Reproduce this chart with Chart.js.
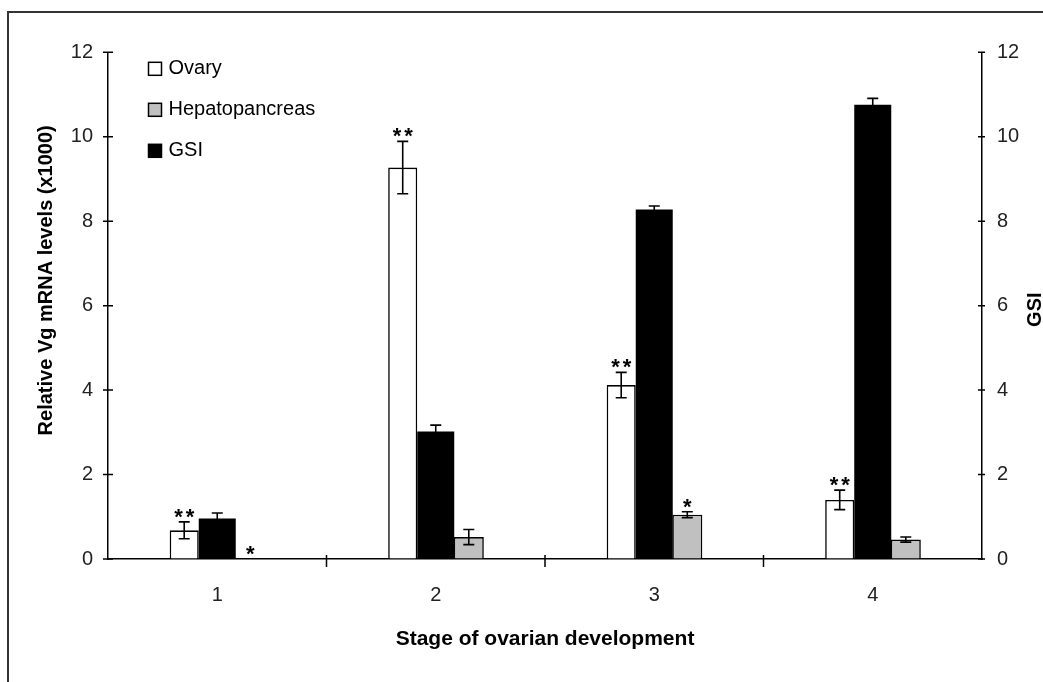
<!DOCTYPE html>
<html><head><meta charset="utf-8">
<script src="https://cdn.jsdelivr.net/npm/chart.js@4.4.0/dist/chart.umd.min.js"></script>
<style>
html,body{margin:0;padding:0;background:#fff;}
#wrap{position:relative;width:1043px;height:682px;overflow:hidden;}
#frame{position:absolute;left:7px;top:11px;width:1100px;height:700px;border-left:2px solid #333;border-top:2px solid #333;pointer-events:none;}
</style></head><body>
<div id="wrap"><canvas id="c"></canvas><div id="frame"></div></div>
<script>
const stages = ['1', '2', '3', '4'];
const ovary = [0.68, 9.27, 4.12, 1.40];
const ovaryErr = [0.20, 0.62, 0.30, 0.23];
const hepato = [0.0, 0.52, 1.05, 0.46];
const hepatoErr = [0.0, 0.18, 0.07, 0.06];
const gsi = [0.96, 3.02, 8.28, 10.76];
const gsiErr = [0.13, 0.15, 0.08, 0.15];
const ovaryMarks = ['**', '**', '**', '**'];
const hepatoMarks = ['*', '', '*', ''];
const gsiMarks = ['', '', '', ''];
const legendOrder = ['Ovary', 'Hepatopancreas', 'GSI'];
const leftTitle = 'Relative Vg mRNA levels (x1000)';
const rightTitle = 'GSI';
const xTitle = 'Stage of ovarian development';

const FONT = '"Liberation Sans", Arial, sans-serif';

const overlay = {
  id: 'overlay',
  afterDatasetsDraw(chart) {
    const ctx = chart.ctx;
    chart.data.datasets.forEach((ds, i) => {
      const meta = chart.getDatasetMeta(i);
      const ys = chart.scales[ds.yAxisID];
      meta.data.forEach((bar, j) => {
        const v = ds.data[j], e = ds.err[j];
        const x = bar.x;
        const top = ys.getPixelForValue(v + e);
        const bot = ys.getPixelForValue(Math.max(v - e, 0));
        ctx.save();
        ctx.strokeStyle = '#000';
        ctx.lineWidth = 1.6;
        if (e > 0) {
          ctx.beginPath();
          ctx.moveTo(x, top); ctx.lineTo(x, bot);
          ctx.moveTo(x - 5.5, top); ctx.lineTo(x + 5.5, top);
          ctx.moveTo(x - 5.5, bot); ctx.lineTo(x + 5.5, bot);
          ctx.stroke();
        }
        const m = ds.marks[j];
        if (m) {
          ctx.font = 'bold 22px ' + FONT;
          ctx.textAlign = 'center';
          ctx.textBaseline = 'alphabetic';
          ctx.fillStyle = '#000';
          if (m.length > 1) {
            ctx.letterSpacing = '3px';
            ctx.fillText(m, x + 1.5, top + 2);
          } else {
            ctx.fillText(m, x, top + 2);
          }
        }
        ctx.restore();
      });
    });
  },
  afterDraw(chart) {
    const ctx = chart.ctx;
    const ca = chart.chartArea;
    const yl = chart.scales.y, yr = chart.scales.y1, xs = chart.scales.x;
    ctx.save();
    ctx.strokeStyle = '#000';
    ctx.lineWidth = 1.5;
    ctx.beginPath();
    yl.ticks.forEach(t => {
      const y = yl.getPixelForValue(t.value);
      ctx.moveTo(ca.left - 5, y); ctx.lineTo(ca.left + 5, y);
    });
    yr.ticks.forEach(t => {
      const y = yr.getPixelForValue(t.value);
      ctx.moveTo(ca.right - 4, y); ctx.lineTo(ca.right + 3, y);
    });
    for (let i = 1; i < stages.length; i++) {
      const bx = (xs.getPixelForValue(i - 1) + xs.getPixelForValue(i)) / 2;
      ctx.moveTo(bx, ca.bottom - 4); ctx.lineTo(bx, ca.bottom + 8);
    }
    ctx.stroke();

    // axis titles (rotated, reading bottom to top)
    ctx.fillStyle = '#000';
    ctx.font = 'bold 20px ' + FONT;
    ctx.textAlign = 'center';
    ctx.textBaseline = 'middle';
    ctx.save();
    ctx.translate(46.5, ca.top + (ca.bottom - ca.top) * 0.45);
    ctx.rotate(-Math.PI / 2);
    ctx.fillText(leftTitle, 0, 0);
    ctx.restore();
    ctx.save();
    ctx.translate(1035, (ca.top + ca.bottom) / 2 + 4);
    ctx.rotate(-Math.PI / 2);
    ctx.fillText(rightTitle, 0, 0);
    ctx.restore();

    // legend
    const lx = ca.left + 40.5, ly = ca.top + 10;
    ctx.font = '20px ' + FONT;
    ctx.textAlign = 'left';
    ctx.textBaseline = 'middle';
    legendOrder.forEach((name, k) => {
      const ds = chart.data.datasets.find(d => d.label === name);
      const by = ly + k * 41;
      ctx.fillStyle = ds.backgroundColor;
      ctx.fillRect(lx, by, 13, 13);
      ctx.strokeStyle = '#000';
      ctx.lineWidth = 1.5;
      ctx.strokeRect(lx, by, 13, 13);
      ctx.fillStyle = '#000';
      ctx.fillText(name, lx + 20, by + 6);
    });
    ctx.restore();
  }
};

const tickFont = { family: FONT, size: 20 };

new Chart(document.getElementById('c'), {
  type: 'bar',
  data: {
    labels: stages,
    datasets: [
      { label: 'Ovary', data: ovary, err: ovaryErr, marks: ovaryMarks, yAxisID: 'y',
        backgroundColor: '#ffffff', borderColor: '#000', borderWidth: 1.6, barPercentage: 0.88 },
      { label: 'GSI', data: gsi, err: gsiErr, marks: gsiMarks, yAxisID: 'y1',
        backgroundColor: '#000000', borderColor: '#000', borderWidth: 0, barPercentage: 1.12 },
      { label: 'Hepatopancreas', data: hepato, err: hepatoErr, marks: hepatoMarks, yAxisID: 'y',
        backgroundColor: '#c0c0c0', borderColor: '#000', borderWidth: 1.6, barPercentage: 0.91 }
    ]
  },
  options: {
    responsive: true,
    maintainAspectRatio: false,
    animation: false,
    devicePixelRatio: 1,
    categoryPercentage: 0.4536,
    layout: { padding: { top: 52.3, left: 0, right: 0, bottom: 0 } },
    plugins: { legend: { display: false }, tooltip: { enabled: false } },
    scales: {
      x: {
        grid: { display: false, drawTicks: false },
        border: { display: true, color: '#000', width: 1.5 },
        ticks: { font: tickFont, color: '#222', padding: 24.5 },
        title: { display: true, text: xTitle, color: '#000',
                 font: { family: FONT, size: 21, weight: 'bold' }, padding: { top: 0, bottom: 30 } },
        afterFit: s => { s.height = 682 - 559; }
      },
      y: {
        position: 'left', min: 0, max: 12,
        grid: { drawOnChartArea: false, drawTicks: false },
        border: { display: true, color: '#000', width: 1.5 },
        ticks: { stepSize: 2, font: tickFont, color: '#222', padding: 15 },
        afterFit: s => { s.width = 108; }
      },
      y1: {
        position: 'right', min: 0, max: 12,
        grid: { drawOnChartArea: false, drawTicks: false },
        border: { display: true, color: '#000', width: 1.5 },
        ticks: { stepSize: 2, font: tickFont, color: '#222', padding: 15 },
        afterFit: s => { s.width = 61; }
      }
    }
  },
  plugins: [overlay]
});
</script>
</body></html>
